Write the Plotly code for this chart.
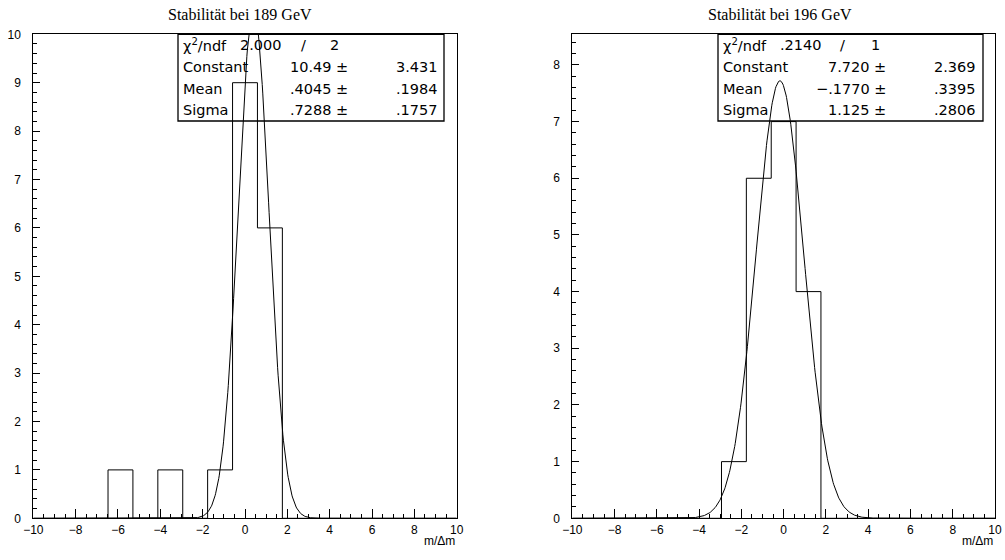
import numpy as np
import plotly.graph_objects as go
from plotly.subplots import make_subplots

# ===================== Data =====================
bin_range = (-10, 10)
n_bins = 17

counts_189 = [0, 0, 0, 1, 0, 1, 0, 1, 9, 6, 0, 0, 0, 0, 0, 0, 0]
counts_196 = [0, 0, 0, 0, 0, 0, 1, 6, 7, 4, 0, 0, 0, 0, 0, 0, 0]

# Gaussian fit results (Constant, Mean, Sigma) and errors
fit_189 = [10.49, 0.4045, 0.7288]
err_189 = [3.431, 0.1984, 0.1757]
chi2_189 = ["2.000", "2"]

fit_196 = [7.720, -0.1770, 1.125]
err_196 = [2.369, 0.3395, 0.2806]
chi2_196 = [".2140", "1"]

titles = ["Stabilität bei 189 GeV", "Stabilität bei 196 GeV"]
y_max = [10, 8.54]

W, H = 1005, 560


def px(x):
    return x / W


def py(y):
    return 1 - y / H


edges = np.linspace(bin_range[0], bin_range[1], n_bins + 1)
xf = np.linspace(bin_range[0], bin_range[1], 800)

fig = make_subplots(rows=1, cols=2)

panels = [
    dict(counts=counts_189, fit=fit_189, col=1),
    dict(counts=counts_196, fit=fit_196, col=2),
]

for p in panels:
    c = p["counts"]
    fig.add_trace(go.Scatter(
        x=edges, y=list(c) + [c[-1]], mode="lines", line_shape="hv",
        line=dict(color="black", width=1), showlegend=False, hoverinfo="skip"
    ), row=1, col=p["col"])
    const, mean, sigma = p["fit"]
    fig.add_trace(go.Scatter(
        x=xf, y=const * np.exp(-0.5 * ((xf - mean) / sigma) ** 2),
        mode="lines", line=dict(color="black", width=1),
        showlegend=False, hoverinfo="skip"
    ), row=1, col=p["col"])

# ===================== Axes =====================
x_dom = [[px(33.3), px(456.7)], [px(572.3), px(995)]]
y_dom = [py(518.3), py(34.3)]

tickfont = dict(family="Liberation Sans, Arial, sans-serif", size=12, color="black")
for i in range(2):
    fig.update_xaxes(
        domain=x_dom[i], range=list(bin_range), tickmode="linear", tick0=-10, dtick=2,
        ticks="inside", ticklen=9, tickcolor="black", tickwidth=1,
        minor=dict(ticks="inside", ticklen=4, dtick=0.5, tick0=-10, tickcolor="black"),
        showgrid=False, zeroline=False, showline=True, linecolor="black", linewidth=1,
        mirror=True, tickfont=tickfont, automargin=False, row=1, col=i + 1
    )
    fig.update_yaxes(
        domain=y_dom, range=[0, y_max[i]], tickmode="linear", tick0=0, dtick=1,
        ticks="inside", ticklen=7, tickcolor="black", tickwidth=1,
        minor=dict(ticks="inside", ticklen=4, dtick=0.2, tick0=0, tickcolor="black"),
        showgrid=False, zeroline=False, showline=True, linecolor="black", linewidth=1,
        mirror=True, tickfont=tickfont, ticklabelstandoff=9, automargin=False,
        row=1, col=i + 1
    )

# ===================== Titles, stats boxes =====================
statfont = dict(family="DejaVu Sans, sans-serif", size=14.5, color="black")
annotations = []
shapes = []

title_x = [240, 780]
for i in range(2):
    annotations.append(dict(
        text=titles[i], x=px(title_x[i]), y=py(14), xref="paper", yref="paper",
        xanchor="center", yanchor="middle", showarrow=False,
        font=dict(family="Liberation Serif, Times New Roman, serif", size=16, color="black")
    ))
    annotations.append(dict(
        text="m/Δm", x=x_dom[i][1], y=py(541), xref="paper", yref="paper",
        xanchor="right", yanchor="middle", showarrow=False,
        font=dict(family="Liberation Sans, Arial, sans-serif", size=12, color="black")
    ))

boxes = [
    dict(l=178, r=444, chi=chi2_189, fit=fit_189, err=err_189,
         chi_val_x=238, slash_x=299, ndf_x=328, val_r=350, err_r=440),
    dict(l=718, r=983, chi=chi2_196, fit=fit_196, err=err_196,
         chi_val_x=778, slash_x=838, ndf_x=869, val_r=888, err_r=978),
]


def fmt(v):
    if abs(v) < 1:
        s = f"{abs(v):.4f}"[1:]
    elif abs(v) >= 10:
        s = f"{abs(v):.2f}"
    else:
        s = f"{abs(v):.3f}"
    return ("−" if v < 0 else "") + s


row_y = [45, 67, 89, 110]
names = ["Constant", "Mean", "Sigma"]
for b in boxes:
    shapes.append(dict(type="rect", xref="paper", yref="paper",
                       x0=px(b["l"]), x1=px(b["r"]), y0=py(121), y1=py(34.3),
                       line=dict(color="black", width=1.3)))

    def add(text, x, y, anchor):
        annotations.append(dict(text=text, x=px(x), y=py(y), xref="paper", yref="paper",
                                xanchor=anchor, yanchor="middle", showarrow=False,
                                font=statfont))

    add("χ<sup>2</sup>/ndf", b["l"] + 3, row_y[0], "left")
    add(b["chi"][0], b["chi_val_x"], row_y[0], "left")
    add("/", b["slash_x"], row_y[0], "left")
    add(b["chi"][1], b["ndf_x"], row_y[0], "left")
    for k in range(3):
        add(names[k], b["l"] + 3, row_y[k + 1], "left")
        add(fmt(b["fit"][k]) + " ±", b["val_r"], row_y[k + 1], "right")
        add(fmt(b["err"][k]), b["err_r"], row_y[k + 1], "right")

fig.update_layout(
    width=W, height=H, margin=dict(l=0, r=0, t=0, b=0),
    plot_bgcolor="white", paper_bgcolor="white",
    annotations=annotations, shapes=shapes, showlegend=False
)

fig.write_html("out.html", config={"displayModeBar": False},
               post_script="document.body.style.margin='0';")
